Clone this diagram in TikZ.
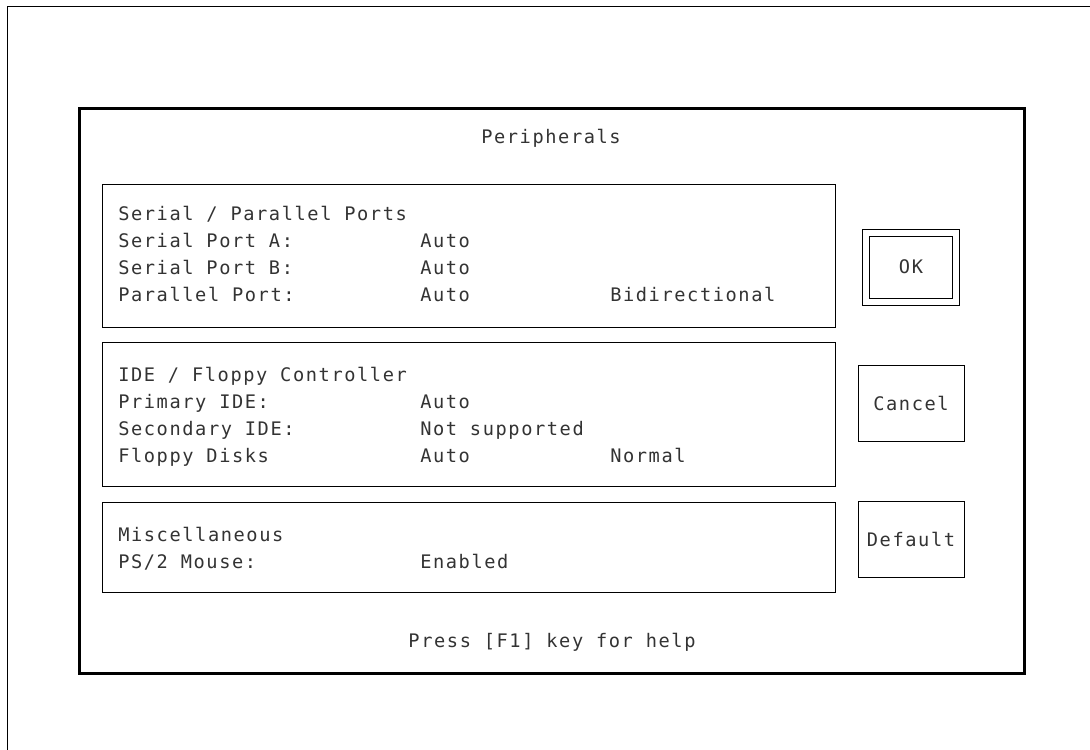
\documentclass[tikz,border=0pt]{standalone}
\usepackage{fontspec}
\newfontfamily\biosfont{DejaVu Sans Mono}[LetterSpace=8.5]
\begin{document}
\begin{tikzpicture}[x=0.75pt, y=-0.75pt,
    panelStyle/.style={draw, line width=0.75pt},
    btnStyle/.style={draw, line width=0.75pt, inner sep=0pt, text=black!80,
        font=\fontsize{14pt}{16pt}\biosfont, minimum width=79.5pt, minimum height=57pt},
    txtStyle/.style={anchor=base west, inner sep=0pt, text=black!80, font=\fontsize{14pt}{16pt}\biosfont},
    midStyle/.style={anchor=base, inner sep=0pt, text=black!80, font=\fontsize{14pt}{16pt}\biosfont}]
    \useasboundingbox (0,0) rectangle (1090,750);

    % page corner and dialog frame
    \draw[line width=0.75pt] (7,750) -- (7,6) -- (1090,6);
    \draw[line width=2.25pt] (79,108) rectangle (1024,673);
    \node[midStyle](title) at (551,143.5) {Peripherals};
    \node[midStyle](help) at (552,647.5) {Press [F1] key for help};

    % panels
    \draw[panelStyle] (102,184) rectangle (835,327);
    \draw[panelStyle] (102,342) rectangle (835,486);
    \draw[panelStyle] (102,502) rectangle (835,592);

    \node[txtStyle](ports) at (118,220.5) {Serial / Parallel Ports};
    \node[txtStyle](serA) at (118,247.5) {Serial Port A:};
    \node[txtStyle](serB) at (118,274.5) {Serial Port B:};
    \node[txtStyle](par) at (118,301.5) {Parallel Port:};
    \node[txtStyle](serAval) at (420,247.5) {Auto};
    \node[txtStyle](serBval) at (420,274.5) {Auto};
    \node[txtStyle](parval) at (420,301.5) {Auto};
    \node[txtStyle](parmode) at (610,301.5) {Bidirectional};

    \node[txtStyle](ide) at (118,381.5) {IDE / Floppy Controller};
    \node[txtStyle](pri) at (118,408.5) {Primary IDE:};
    \node[txtStyle](sec) at (118,435.5) {Secondary IDE:};
    \node[txtStyle](fdd) at (118,462.5) {Floppy Disks};
    \node[txtStyle](prival) at (420,408.5) {Auto};
    \node[txtStyle](secval) at (420,435.5) {Not supported};
    \node[txtStyle](fddval) at (420,462.5) {Auto};
    \node[txtStyle](fddmode) at (610,462.5) {Normal};

    \node[txtStyle](misc) at (118,541.5) {Miscellaneous};
    \node[txtStyle](mouse) at (118,568.5) {PS/2 Mouse:};
    \node[txtStyle](mouseval) at (420,568.5) {Enabled};

    % buttons
    \node[btnStyle, double, double distance=4.5pt, minimum width=67.9pt, minimum height=51.75pt](ok) at (911,267) {OK};
    \node[btnStyle](cancel) at (911,403) {Cancel};
    \node[btnStyle](default) at (911,539.5) {Default};
\end{tikzpicture}
\end{document}
